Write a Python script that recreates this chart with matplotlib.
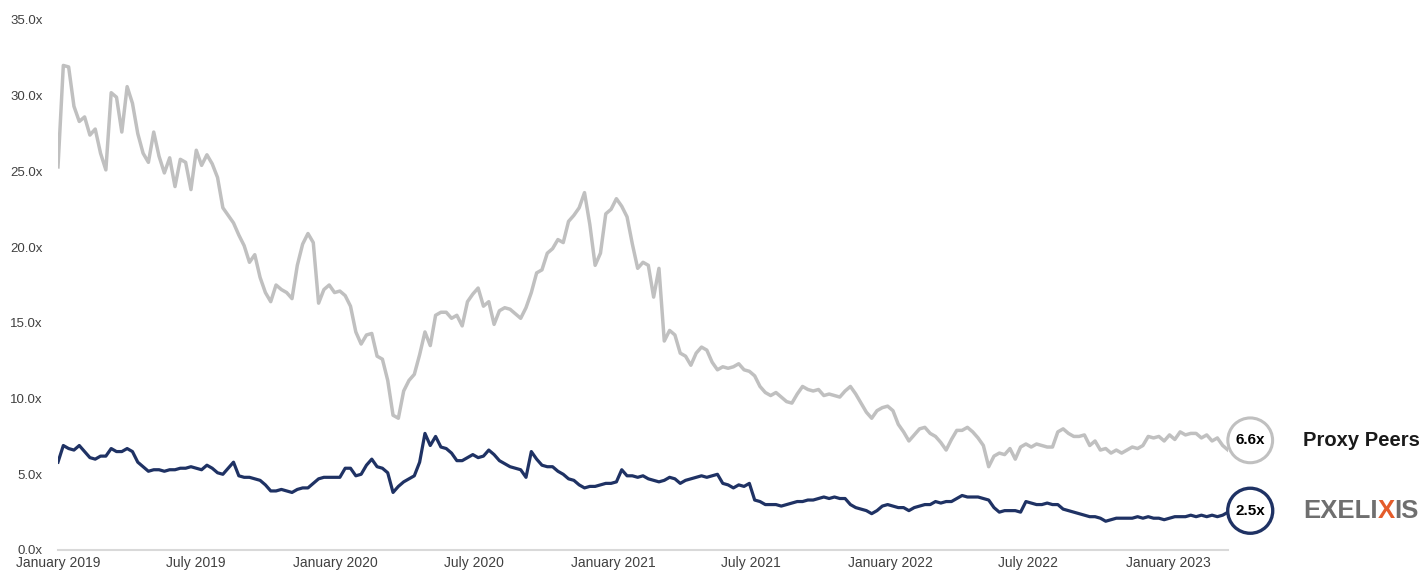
import numpy as np
import pandas as pd
import matplotlib
matplotlib.use("Agg")
import matplotlib.pyplot as plt

# weekly EV / revenue multiples, starting first week of Jan 2019
peers = [25.3, 32.0, 31.9, 29.3, 28.3, 28.6, 27.4, 27.8, 26.2, 25.1,
         30.2, 29.9, 27.6, 30.6, 29.5, 27.5, 26.2, 25.6, 27.6, 26.0,
         24.9, 25.9, 24.0, 25.8, 25.6, 23.8, 26.4, 25.4, 26.1, 25.5,
         24.6, 22.6, 22.1, 21.6, 20.8, 20.1, 19.0, 19.5, 18.0, 17.0,
         16.4, 17.5, 17.2, 17.0, 16.6, 18.8, 20.2, 20.9, 20.3, 16.3,
         17.2, 17.5, 17.0, 17.1, 16.8, 16.1, 14.4, 13.6, 14.2, 14.3,
         12.8, 12.6, 11.2, 8.9, 8.7, 10.5, 11.2, 11.6, 12.9, 14.4,
         13.5, 15.5, 15.7, 15.7, 15.3, 15.5, 14.8, 16.4, 16.9, 17.3,
         16.1, 16.4, 14.9, 15.8, 16.0, 15.9, 15.6, 15.3, 16.0, 17.0,
         18.3, 18.5, 19.6, 19.9, 20.5, 20.3, 21.7, 22.1, 22.6, 23.6,
         21.5, 18.8, 19.6, 22.2, 22.5, 23.2, 22.7, 22.0, 20.2, 18.6,
         19.0, 18.8, 16.7, 18.6, 13.8, 14.5, 14.2, 13.0, 12.8, 12.2,
         13.0, 13.4, 13.2, 12.4, 11.9, 12.1, 12.0, 12.1, 12.3, 11.9,
         11.8, 11.5, 10.8, 10.4, 10.2, 10.4, 10.1, 9.8, 9.7, 10.3,
         10.8, 10.6, 10.5, 10.6, 10.2, 10.3, 10.2, 10.1, 10.5, 10.8,
         10.3, 9.7, 9.1, 8.7, 9.2, 9.4, 9.5, 9.2, 8.3, 7.8,
         7.2, 7.6, 8.0, 8.1, 7.7, 7.5, 7.1, 6.6, 7.3, 7.9,
         7.9, 8.1, 7.8, 7.4, 6.9, 5.5, 6.2, 6.4, 6.3, 6.7,
         6.0, 6.8, 7.0, 6.8, 7.0, 6.9, 6.8, 6.8, 7.8, 8.0,
         7.7, 7.5, 7.5, 7.6, 6.9, 7.2, 6.6, 6.7, 6.4, 6.6,
         6.4, 6.6, 6.8, 6.7, 6.9, 7.5, 7.4, 7.5, 7.2, 7.6,
         7.3, 7.8, 7.6, 7.7, 7.7, 7.4, 7.6, 7.2, 7.4, 6.9,
         6.6]

exelixis = [5.8, 6.9, 6.7, 6.6, 6.9, 6.5, 6.1, 6.0, 6.2, 6.2,
            6.7, 6.5, 6.5, 6.7, 6.5, 5.8, 5.5, 5.2, 5.3, 5.3,
            5.2, 5.3, 5.3, 5.4, 5.4, 5.5, 5.4, 5.3, 5.6, 5.4,
            5.1, 5.0, 5.4, 5.8, 4.9, 4.8, 4.8, 4.7, 4.6, 4.3,
            3.9, 3.9, 4.0, 3.9, 3.8, 4.0, 4.1, 4.1, 4.4, 4.7,
            4.8, 4.8, 4.8, 4.8, 5.4, 5.4, 4.9, 5.0, 5.6, 6.0,
            5.5, 5.4, 5.1, 3.8, 4.2, 4.5, 4.7, 4.9, 5.8, 7.7,
            6.9, 7.5, 6.8, 6.7, 6.4, 5.9, 5.9, 6.1, 6.3, 6.1,
            6.2, 6.6, 6.3, 5.9, 5.7, 5.5, 5.4, 5.3, 4.8, 6.5,
            6.0, 5.6, 5.5, 5.5, 5.2, 5.0, 4.7, 4.6, 4.3, 4.1,
            4.2, 4.2, 4.3, 4.4, 4.4, 4.5, 5.3, 4.9, 4.9, 4.8,
            4.9, 4.7, 4.6, 4.5, 4.6, 4.8, 4.7, 4.4, 4.6, 4.7,
            4.8, 4.9, 4.8, 4.9, 5.0, 4.4, 4.3, 4.1, 4.3, 4.2,
            4.4, 3.3, 3.2, 3.0, 3.0, 3.0, 2.9, 3.0, 3.1, 3.2,
            3.2, 3.3, 3.3, 3.4, 3.5, 3.4, 3.5, 3.4, 3.4, 3.0,
            2.8, 2.7, 2.6, 2.4, 2.6, 2.9, 3.0, 2.9, 2.8, 2.8,
            2.6, 2.8, 2.9, 3.0, 3.0, 3.2, 3.1, 3.2, 3.2, 3.4,
            3.6, 3.5, 3.5, 3.5, 3.4, 3.3, 2.8, 2.5, 2.6, 2.6,
            2.6, 2.5, 3.2, 3.1, 3.0, 3.0, 3.1, 3.0, 3.0, 2.7,
            2.6, 2.5, 2.4, 2.3, 2.2, 2.2, 2.1, 1.9, 2.0, 2.1,
            2.1, 2.1, 2.1, 2.2, 2.1, 2.2, 2.1, 2.1, 2.0, 2.1,
            2.2, 2.2, 2.2, 2.3, 2.2, 2.3, 2.2, 2.3, 2.2, 2.3,
            2.5]

dates = pd.date_range("2019-01-01", periods=len(peers), freq="7D")
xticks = pd.date_range("2019-01-01", "2023-01-01", freq="6MS")
yticks = [0, 5, 10, 15, 20, 25, 30, 35]

gray = "#c0c0c0"
navy = "#1f3264"

plt.rcParams['font.family'] = ['Liberation Sans', 'DejaVu Sans']

fig = plt.figure(figsize=(14.23, 5.77), dpi=100)
ax = fig.add_axes([58 / 1423, 1 - 550 / 577, (1228 - 58) / 1423, (550 - 20) / 577])

ax.plot(dates, peers, color=gray, lw=2.5)
ax.plot(dates, exelixis, color=navy, lw=2.3)

ax.set_xlim(dates[0], dates[-1])
ax.set_ylim(0, 35)
ax.set_yticks(yticks)
ax.set_yticklabels([f"{v:.1f}x" for v in yticks])
ax.set_xticks(xticks)
ax.set_xticklabels([d.strftime("%B %Y") for d in xticks])
ax.tick_params(length=0, colors="#404040")
ax.tick_params(axis='y', pad=11, labelsize=9.5)
ax.tick_params(axis='x', pad=4, labelsize=10)
for s in ['top', 'right', 'left']:
    ax.spines[s].set_visible(False)
ax.spines['bottom'].set_color('#d9d9d9')
ax.spines['bottom'].set_linewidth(1.5)

# end-of-series value bubbles
for vals, col, lw, dy in [(peers, gray, 2.2, 7), (exelixis, navy, 2.4, 1)]:
    ax.annotate(f"{vals[-1]:.1f}x", xy=(dates[-1], vals[-1]), xytext=(16, dy),
                textcoords='offset points', ha='center', va='center',
                fontsize=11, fontweight='bold', color='black',
                bbox=dict(boxstyle='circle,pad=0.5', fc='white', ec=col, lw=lw),
                annotation_clip=False, zorder=5)

ax.annotate("Proxy Peers", xy=(dates[-1], peers[-1]), xytext=(54, 7),
            textcoords='offset points', ha='left', va='center',
            fontsize=14.5, fontweight='bold', color='#1a1a1a',
            annotation_clip=False)

# company wordmark with the coloured X
t1 = ax.annotate("EXELI", xy=(dates[-1], exelixis[-1]), xytext=(54, 1),
                 textcoords='offset points', ha='left', va='center',
                 fontsize=18.5, fontweight='bold', color='#6f6f6f',
                 annotation_clip=False)
t2 = ax.annotate("X", xy=(1, 0), xycoords=t1, ha='left', va='bottom',
                 fontsize=18.5, fontweight='bold', color='#e45c2b')
t3 = ax.annotate("IS", xy=(1, 0), xycoords=t2, ha='left', va='bottom',
                 fontsize=18.5, fontweight='bold', color='#6f6f6f')

fig.savefig("out.png", dpi=100)
